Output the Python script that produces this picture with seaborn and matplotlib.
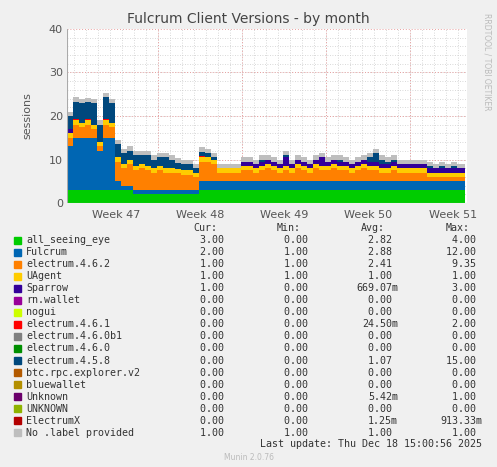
import matplotlib
matplotlib.use("Agg")
import matplotlib.pyplot as plt
import seaborn as sns
import numpy as np

sns.set_theme(style="white")
plt.rcParams['font.family'] = ['DejaVu Sans']

t = np.arange(67) * 0.5  # days since start, half-day resolution

all_seeing_eye = [3,3,3,3,3,3,3,3,3,3,3,2,2,2,2,2,2,2,2,2,2,2,3,3,3,3,3,3,3,3,3,3,3,3,3,3,3,3,3,3,3,3,3,3,3,3,3,3,3,3,3,3,3,3,3,3,3,3,3,3,3,3,3,3,3,3,3]
fulcrum = [10,12,12,12,12,9,12,12,2,1,1,1,1,1,1,1,1,1,1,1,1,1,2,2,2,2,2,2,2,2,2,2,2,2,2,2,2,2,2,2,2,2,2,2,2,2,2,2,2,2,2,2,2,2,2,2,2,2,2,2,2,2,2,2,2,2,2]
electrum_462 = [2,3,2.5,3,2,1,3,2.5,4.5,4,5,4.5,5,4.5,4,4.5,4,4,3.8,3.5,3.5,3,4.5,4.5,4,2,2,2,2,2.5,2.5,2,2.5,3,2.5,2,2.5,2,3,2.5,2,3,2.5,2.5,3,2.5,2.5,2,2.5,3,2.5,2.5,2,2,2.5,2,2,2,2,2,1,1,1,1,1,1,1]
uagent = [1]*67
sparrow = [1,0,0,0,0,0,0,0,0,0,0,0,0,0,0,0,0,0,0,0,0,0,0,0,0,0,0,0,0,1,1,1,1,1,1,1,2,1,1,1,1,1,2,1,1,1,1,1,1,1,1,1,1,1,1,1,1,1,1,1,1,1,1,1,1,1,1]
electrum_461 = [0,0.3,0,0.2,0,0,0.3,0,0,0,0,0,0,0,0,0,0,0,0,0,0,0,0.3,0,0,0,0,0,0,0,0,0,0,0,0,0,0,0,0,0,0,0,0,0,0,0,0,0,0,0,0,0,0,0,0,0,0,0,0,0,0,0,0,0,0,0,0]
electrum_458 = [3,4,4.5,4,5,4,5,4.5,3,2.5,2,2.5,2,2.5,2,2,2.5,2,1.5,1.5,1.5,1,1,1,0.5,0,0,0,0,0,0,0,0.5,0,0,0,0.5,0,0,0,0,0,0,0,0,0.5,0,0,0,0,1,2,1,0.5,0.5,0,0,0,0,0,0.5,0,0.5,0,0.5,0,0]
no_label = [1]*67

series = [("all_seeing_eye", all_seeing_eye, "#00CC00"),
          ("Fulcrum", fulcrum, "#0066B3"),
          ("electrum.4.6.2", electrum_462, "#FF8000"),
          ("UAgent", uagent, "#FFCC00"),
          ("Sparrow", sparrow, "#330099"),
          ("electrum.4.6.1", electrum_461, "#FF0000"),
          ("electrum.4.5.8", electrum_458, "#00487D"),
          ("No .label provided", no_label, "#BEBEBE")]

legend_names = ["all_seeing_eye","Fulcrum","electrum.4.6.2","UAgent","Sparrow","rn.wallet","nogui",
                "electrum.4.6.1","electrum.4.6.0b1","electrum.4.6.0","electrum.4.5.8","btc.rpc.explorer.v2",
                "bluewallet","Unknown","UNKNOWN","ElectrumX","No .label provided"]
legend_colors = ["#00CC00","#0066B3","#FF8000","#FFCC00","#330099","#990099","#CCFF00","#FF0000",
                 "#808080","#008F00","#00487D","#B35A00","#B38F00","#6B006B","#8FB300","#B30000","#BEBEBE"]
cur = ["3.00","2.00","1.00","1.00","1.00","0.00","0.00","0.00","0.00","0.00","0.00","0.00","0.00","0.00","0.00","0.00","1.00"]
mins = ["0.00","1.00","1.00","1.00","0.00","0.00","0.00","0.00","0.00","0.00","0.00","0.00","0.00","0.00","0.00","0.00","1.00"]
avg = ["2.82","2.88","2.41","1.00","669.07m","0.00","0.00","24.50m","0.00","0.00","1.07","0.00","0.00","5.42m","0.00","1.25m","1.00"]
mx = ["4.00","12.00","9.35","1.00","3.00","0.00","0.00","2.00","0.00","0.00","15.00","0.00","0.00","1.00","0.00","913.33m","1.00"]

W, H = 497, 467
fig = plt.figure(figsize=(W/100, H/100), dpi=100, facecolor="#F0F0F0")
ax = fig.add_axes([67/W, 1-203/H, 400/W, 174/H])
ax.set_facecolor("white")

t_ext = np.append(t, 33.15)
base = np.zeros(len(t_ext))
for name, vals, col in series:
    v = np.array(vals + [vals[-1]], float)
    ax.fill_between(t_ext, base, base+v, step="post", color=col, linewidth=0)
    base = base + v

ax.set_xlim(0, 33.3)
ax.set_ylim(0, 40)
ax.set_yticks([0,10,20,30,40])
ax.set_yticklabels(["0","10","20","30","40"], fontsize=8, color="#555555")
ax.set_xticks([])
week_bounds = [7.58, 14.58, 21.58, 28.58]
for d in np.arange(0.58, 33.3, 1.0):
    ax.axvline(d, color="#CCCCCC", lw=0.6, ls=(0,(1,2)), zorder=0.5)
for yv in np.arange(2, 40, 2):
    ax.axhline(yv, color="#CCCCCC", lw=0.6, ls=(0,(1,2)), zorder=0.5)
for d in week_bounds:
    ax.axvline(d, color="#E8A0A0", lw=0.7, ls=(0,(1,2)), zorder=0.6)
for yv in [10,20,30,40]:
    ax.axhline(yv, color="#E8A0A0", lw=0.7, ls=(0,(1,2)), zorder=0.6)
for i, lab in enumerate(["Week 47","Week 48","Week 49","Week 50","Week 51"]):
    ax.text(4.1 + 7*i, -1.6, lab, ha="center", va="top", fontsize=8, color="#555555")
for s in ax.spines.values():
    s.set_visible(False)
ax.axhline(0, color="#AAAAAA", lw=0.8)
ax.axvline(0, color="#AAAAAA", lw=0.8)
ax.tick_params(axis="y", length=0, pad=3)
ax.set_ylabel("sessions", fontsize=8, color="#555555", labelpad=12)

fig.text(0.5, 1-19/H, "Fulcrum Client Versions - by month", ha="center", va="center", fontsize=10, color="#444444")
fig.text(487/W, 1-62/H, "RRDTOOL / TOBI OETIKER", rotation=270, ha="center", va="center", fontsize=5.5, color="#BBBBBB")

mono = "DejaVu Sans Mono"
fs = 7.2
def ytop(px): return 1-px/H
fig.text(217/W, ytop(228), "Cur:", ha="right", va="center", family=mono, fontsize=fs, color="#333333")
fig.text(301/W, ytop(228), "Min:", ha="right", va="center", family=mono, fontsize=fs, color="#333333")
fig.text(385/W, ytop(228), "Avg:", ha="right", va="center", family=mono, fontsize=fs, color="#333333")
fig.text(470/W, ytop(228), "Max:", ha="right", va="center", family=mono, fontsize=fs, color="#333333")
def fmt(s): return s if s.endswith("m") else s + " "
for i, name in enumerate(legend_names):
    y = 240 + i*12.05
    fig.patches.append(plt.Rectangle((14/W, ytop(y+3.5)), 7/W, 7/H, transform=fig.transFigure, color=legend_colors[i]))
    fig.text(26/W, ytop(y), name, ha="left", va="center", family=mono, fontsize=fs, color="#333333")
    for xr, col in [(230, cur), (314, mins), (398, avg), (482, mx)]:
        fig.text(xr/W, ytop(y), fmt(col[i]), ha="right", va="center", family=mono, fontsize=fs, color="#333333")
fig.text(482/W, ytop(444), "Last update: Thu Dec 18 15:00:56 2025", ha="right", va="center", family=mono, fontsize=fs, color="#333333")
fig.text(0.5, ytop(458), "Munin 2.0.76", ha="center", va="center", fontsize=5.5, color="#BBBBBB")

fig.savefig("out.png", dpi=100, facecolor=fig.get_facecolor())
